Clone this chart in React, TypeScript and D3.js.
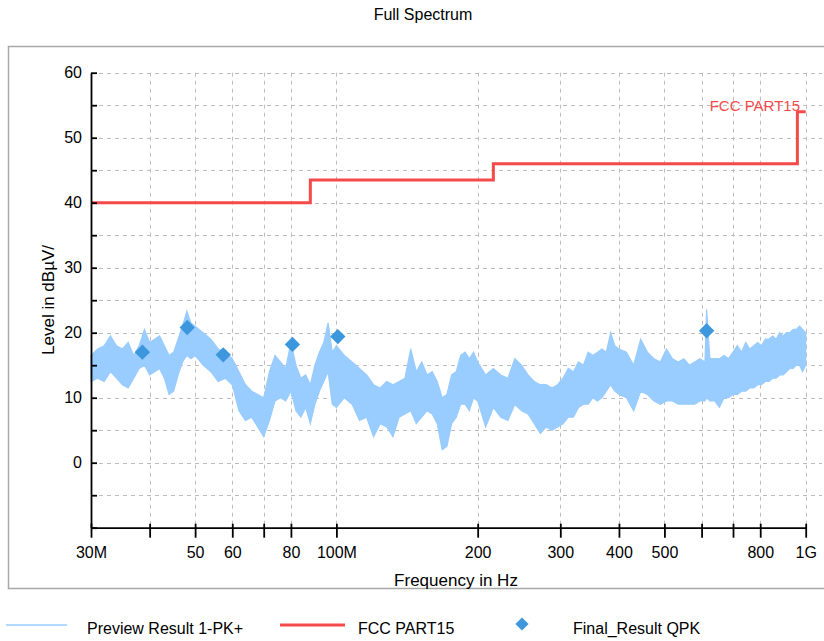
import { useEffect, useRef } from "react";
import * as d3 from "d3";

const traceFreqs = [
  30, 31, 32, 33, 34, 35, 36, 37, 38, 39, 40, 41, 42, 43, 44, 45, 46, 47, 48, 49, 50,
  52, 54, 56, 58, 60, 62, 64, 66, 68, 70, 72, 74, 76, 78, 80, 82, 84, 86, 88, 90, 92, 94, 96, 98, 100,
  104, 108, 112, 116, 120, 124, 128, 132, 136, 140, 144, 148, 152, 156, 160, 164, 168, 172, 176, 180, 184, 188, 192, 196, 200,
  208, 216, 224, 232, 240, 248, 256, 264, 272, 280, 288, 296, 304, 312, 320, 328, 336, 344, 352, 360, 368, 376, 384, 392, 400,
  415, 430, 445, 460, 475, 490, 505, 520, 535, 550, 565, 580, 595, 610, 615, 625, 640, 655, 670, 685, 700,
  715, 730, 745, 760, 775, 790, 805, 820, 835, 850, 865, 880, 895, 910, 925, 940, 955, 970, 985, 1000,
];
const traceLow = [
  12.5, 13, 12.5, 14, 13, 12, 11.5, 13, 14.5, 15, 13.5, 14, 14.5, 13, 10.5, 11, 13.5, 15.5, 16.5, 16, 16.5,
  15, 14, 12.5, 13, 12, 8, 6.5, 7, 5.5, 4, 6.5, 9.5, 10, 9.5, 11, 8, 7, 8.5, 6, 9, 11, 12.5, 14, 9, 8.5,
  10, 9, 6.5, 7, 4, 6, 5.5, 4, 7, 7.5, 8, 6, 7, 8, 7.5, 6, 2, 2.5, 6, 7, 9, 9, 8, 10, 9.5,
  5.5, 8.5, 7, 6.5, 9, 8, 7.5, 6, 4.5, 5.5, 5, 5.5, 6, 7, 7, 8.5, 9, 9, 10, 9.5, 10, 11, 12, 11, 10.5,
  10, 8, 11, 10.5, 9.5, 9, 9.5, 9.5, 9, 9, 9, 9, 9.5, 9.5, 10, 9.5, 9.5, 8.5, 10, 10, 10.5,
  10.5, 11, 11, 11.5, 11.5, 12, 12, 12.5, 12.5, 13, 13, 13.5, 13.5, 14, 14.5, 14.5, 15, 15, 14, 15,
];
const traceHigh = [
  16.5, 17.5, 18, 19.5, 18, 17.5, 18.5, 16.5, 18, 20.5, 18.5, 19, 19.5, 18, 16.5, 17, 19, 21, 23.3, 21.5, 21,
  20, 19, 17.5, 17, 16, 14, 12, 11, 10.5, 10, 14, 16.5, 15.5, 14.5, 18.5, 15, 13, 13.5, 12, 15, 17, 18.5, 21.5, 17, 18,
  16.5, 15.5, 14.5, 13.5, 12, 11.5, 12.5, 12, 12.5, 13, 17.5, 14, 15.5, 13.5, 14, 12.5, 10, 10.5, 13.5, 14, 16.5, 17, 16, 17, 15.5,
  13.5, 14.5, 13.5, 13, 16, 15, 13.5, 12.5, 12, 12, 11.5, 12, 13, 14.5, 14, 15.5, 15, 17, 16.5, 17, 17.5, 17, 20, 18, 17.5,
  17, 15, 19, 17, 16, 15.5, 17.5, 16, 15.5, 16, 15, 15.5, 16, 15.5, 23.6, 16, 16, 16, 16.5, 16, 17,
  18, 17, 18.5, 17.5, 18, 18.5, 18, 19, 19, 19.5, 19, 20, 19.5, 20, 20, 20.5, 20.5, 21, 20.5, 20,
];

// FCC Part 15 limit (step after each frequency)
const limitFreqs = [30, 88, 216, 960, 1000];
const limitLevels = [40, 43.5, 46, 54, 54];

// Final_Result QPK points
const finalFreqs = [38.6, 48.1, 57.4, 80.6, 100.7, 615];
const finalLevels = [17.0, 20.8, 16.6, 18.2, 19.4, 20.3];

const xTicks = [30, 40, 50, 60, 70, 80, 100, 200, 300, 400, 500, 600, 700, 800, 1000];
const xTickLabels = ["30M", "", "50", "60", "", "80", "100M", "200", "300", "400", "500", "", "", "800", "1G"];
const yTicks = [-10, -5, 0, 5, 10, 15, 20, 25, 30, 35, 40, 45, 50, 55, 60];
const yTickLabels = ["", "", "0", "", "10", "", "20", "", "30", "", "40", "", "50", "", "60"];

const FONT = "'Liberation Sans', Arial, sans-serif";
const TRACE = "#99ccff";
const LIMIT = "#f64a4a";
const FINAL = "#3d97dd";

const App = () => {
  const ref = useRef<SVGSVGElement>(null);

  useEffect(() => {
    const svg = d3.select(ref.current);
    svg.selectAll("*").remove();

    const x = d3.scaleLog().domain([30, 1000]).range([91, 805.7]);
    const y = d3.scaleLinear().domain([-10, 60]).range([527.7, 72.7]);

    svg
      .append("text")
      .attr("x", 423)
      .attr("y", 20)
      .attr("text-anchor", "middle")
      .style("font-family", FONT)
      .style("font-size", "16px")
      .text("Full Spectrum");

    const defs = svg.append("defs");
    defs
      .append("clipPath")
      .attr("id", "frame-clip")
      .append("rect")
      .attr("x", 8)
      .attr("y", 46)
      .attr("width", 830)
      .attr("height", 543);

    svg
      .append("rect")
      .attr("x", 8.5)
      .attr("y", 46.5)
      .attr("width", 830)
      .attr("height", 542)
      .attr("fill", "#fff")
      .attr("stroke", "#a8a8a8")
      .attr("stroke-width", 1.5);

    const g = svg.append("g").attr("clip-path", "url(#frame-clip)");

    // grid
    const grid = g.append("g");
    grid
      .selectAll("line.h")
      .data(yTicks.filter((d) => d > -10))
      .join("line")
      .attr("x1", 91)
      .attr("x2", 822)
      .attr("y1", (d) => Math.round(y(d)) + 0.5)
      .attr("y2", (d) => Math.round(y(d)) + 0.5);
    grid
      .selectAll("line.v")
      .data(xTicks.filter((d) => d > 30))
      .join("line")
      .attr("x1", (d) => Math.round(x(d)) + 0.5)
      .attr("x2", (d) => Math.round(x(d)) + 0.5)
      .attr("y1", y(60))
      .attr("y2", y(-10));
    grid
      .selectAll("line")
      .attr("stroke", "#bdbdbd")
      .attr("stroke-width", 1)
      .attr("stroke-dasharray", "4 4");

    // preview trace: min/max envelope, with spiky edges
    const idx = d3.range(traceFreqs.length);
    const area = d3
      .area<number>()
      .x((i) => x(traceFreqs[i]))
      .y0((i) => y(traceLow[i]))
      .y1((i) => y(traceHigh[i]));
    g.append("path")
      .attr("d", area(idx) as string)
      .attr("fill", TRACE)
      .attr("stroke", TRACE)
      .attr("stroke-width", 1.2)
      .attr("stroke-linejoin", "miter");

    // limit line
    const limitLine = d3
      .line<number>()
      .x((i) => x(limitFreqs[i]))
      .y((i) => y(limitLevels[i]))
      .curve(d3.curveStepAfter);
    g.append("path")
      .attr("d", limitLine(d3.range(limitFreqs.length)) as string)
      .attr("fill", "none")
      .attr("stroke", LIMIT)
      .attr("stroke-width", 3);

    g.append("text")
      .attr("x", 800)
      .attr("y", 111)
      .attr("text-anchor", "end")
      .attr("fill", LIMIT)
      .style("font-family", FONT)
      .style("font-size", "15px")
      .text("FCC PART15");

    // final results
    const diamond = d3.symbol().type(d3.symbolDiamond2).size(150);
    g.selectAll("path.fin")
      .data(d3.range(finalFreqs.length))
      .join("path")
      .attr("transform", (i) => `translate(${x(finalFreqs[i])},${y(finalLevels[i])})`)
      .attr("d", diamond() as string)
      .attr("fill", FINAL);

    // axes
    const xAxis = d3
      .axisBottom(x)
      .tickValues(xTicks)
      .tickFormat((_d, i) => xTickLabels[i])
      .tickSize(10)
      .tickSizeOuter(0)
      .tickPadding(9);
    const gx = g.append("g").attr("transform", `translate(0,${y(-10)})`).call(xAxis);
    gx.selectAll("line").attr("y1", -4);

    const yAxis = d3
      .axisLeft(y)
      .tickValues(yTicks)
      .tickFormat((_d, i) => yTickLabels[i])
      .tickSize(5)
      .tickSizeOuter(0)
      .tickPadding(4);
    const gy = g.append("g").attr("transform", `translate(91,0)`).call(yAxis);
    gy.selectAll("line").attr("x2", 6);

    [gx, gy].forEach((ax) => {
      ax.select(".domain").attr("stroke", "#000").attr("stroke-width", 1.8);
      ax.selectAll("line").attr("stroke", "#000").attr("stroke-width", 1.8);
      ax.selectAll("text")
        .attr("fill", "#000")
        .style("font-family", FONT)
        .style("font-size", "16px");
    });

    g.append("text")
      .attr("transform", "translate(54,300) rotate(-90)")
      .attr("text-anchor", "middle")
      .style("font-family", FONT)
      .style("font-size", "17px")
      .text("Level in dBµV/");

    g.append("text")
      .attr("x", 456)
      .attr("y", 586)
      .attr("text-anchor", "middle")
      .style("font-family", FONT)
      .style("font-size", "17px")
      .text("Frequency in Hz");

    // legend
    const lg = svg.append("g").style("font-family", FONT).style("font-size", "16px");
    lg.append("line").attr("x1", 6).attr("x2", 67).attr("y1", 625).attr("y2", 625).attr("stroke", TRACE).attr("stroke-width", 1.5);
    lg.append("text").attr("x", 87).attr("y", 634).text("Preview  Result 1-PK+");
    lg.append("line").attr("x1", 280).attr("x2", 345).attr("y1", 625).attr("y2", 625).attr("stroke", LIMIT).attr("stroke-width", 3);
    lg.append("text").attr("x", 358).attr("y", 634).text("FCC PART15");
    lg.append("path")
      .attr("transform", "translate(522,624)")
      .attr("d", d3.symbol().type(d3.symbolDiamond2).size(110)() as string)
      .attr("fill", FINAL);
    lg.append("text").attr("x", 573).attr("y", 634).text("Final_Result QPK");
  }, []);

  return (
    <svg
      ref={ref}
      width={824}
      height={641}
      style={{ position: "absolute", left: 0, top: 0, background: "#fff" }}
    />
  );
};

export default App;
